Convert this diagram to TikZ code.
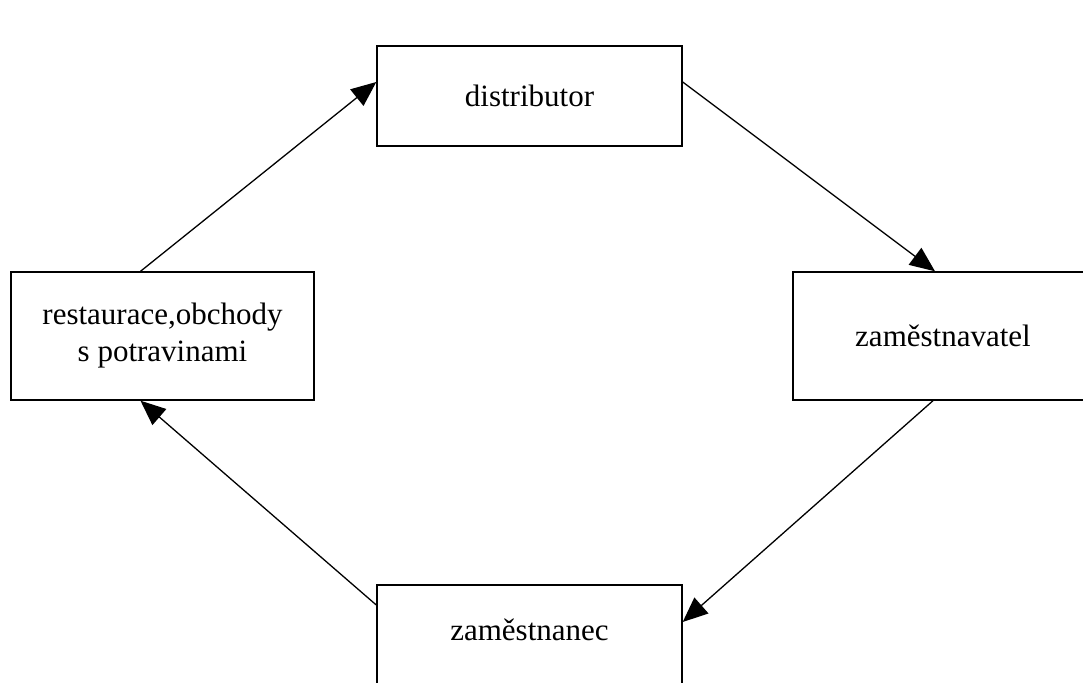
\documentclass[tikz,border=0pt]{standalone}
\usepackage{fontspec}
\setmainfont{Liberation Serif}
\usetikzlibrary{arrows.meta, positioning}

\begin{document}
\begin{tikzpicture}[
    x=1pt, y=1pt,
    box/.style={rectangle, draw=black, line width=1.4pt, fill=white, align=center, font=\fontsize{31}{37}\selectfont},
    arrow/.style={-{Triangle[length=25pt,width=21pt]}, line width=1.3pt, draw=black}
]
    \useasboundingbox (0,0) rectangle (1083,-682);

    \node[box, minimum width=305pt, minimum height=100pt] (dist) at (529.5,-96) {distributor};
    \node[box, minimum width=303pt, minimum height=128pt] (rest) at (162.5,-336) {restaurace,obchody\\s potravinami};
    \node[box, minimum width=300pt, minimum height=128pt] (zvatel) at (943,-336) {zaměstnavatel};
    \node[box, minimum width=305pt, minimum height=110pt, text depth=20pt] (zanec) at (529.5,-640) {zaměstnanec};

    \draw[arrow] ([xshift=-22pt]rest.north) -- ([yshift=14pt]dist.west);
    \draw[arrow] ([yshift=14pt]dist.east) -- ([xshift=-8pt]zvatel.north);
    \draw[arrow] ([xshift=-10pt]zvatel.south) -- ([yshift=18pt]zanec.east);
    \draw[arrow] ([yshift=35pt]zanec.west) -- ([xshift=-22pt]rest.south);
\end{tikzpicture}
\end{document}
